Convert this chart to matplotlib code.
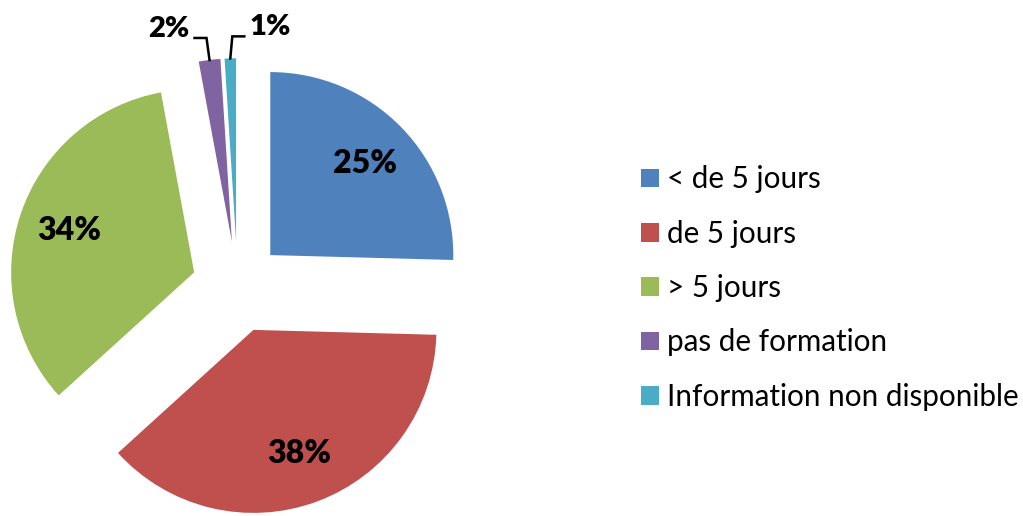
import matplotlib
matplotlib.use("Agg")
import matplotlib.pyplot as plt
import numpy as np

categories = ["< de 5 jours", "de 5 jours", "> 5 jours", "pas de formation",
              "Information non disponible"]
shares = [25.4, 37.8, 33.8, 1.9, 1.0]
colors = ["#4F81BD", "#C0504D", "#9BBB59", "#8064A2", "#4BACC6"]

plt.rcParams["font.family"] = ["Lato", "DejaVu Sans"]

W, H, DPI = 1023, 516, 100
fig = plt.figure(figsize=(W / DPI, H / DPI), dpi=DPI)
ax = fig.add_axes([0, 0, 1, 1])

# pie geometry in pixels: centre and radius
cx, cy, rad = 237.5, 287.0, 183.0

wedges, texts, autotexts = ax.pie(
    shares, colors=colors, startangle=90, counterclock=False,
    explode=[0.25] * len(shares), radius=1.0, center=(0, 0),
    autopct="%.0f%%", pctdistance=0.72,
    wedgeprops=dict(linewidth=0),
    textprops=dict(fontsize=23, fontweight="heavy", color="black"),
    frame=True,
)
ax.set_xlim(-cx / rad, (W - cx) / rad)
ax.set_ylim(-(H - cy) / rad, cy / rad)
ax.axis("off")

px = 1.0 / rad  # one pixel in data units
for i, (w, t) in enumerate(zip(wedges, autotexts)):
    if shares[i] >= 5:
        continue
    t.set_visible(False)
    mid = np.deg2rad((w.theta1 + w.theta2) / 2)
    ox, oy = w.center
    ax_x, ax_y = ox + w.r * np.cos(mid), oy + w.r * np.sin(mid)
    side = -1 if np.cos(mid) < -0.05 else 1
    ex = ax_x - 3 * px if side < 0 else ax_x + 2 * px
    ey = ax_y + 22 * px
    ends = ex + side * 12 * px
    ax.plot([ax_x, ex, ends], [ax_y, ey, ey], color="black", lw=1.8,
            solid_joinstyle="miter")
    ax.text(ends + side * 5 * px, ey + 9 * px, t.get_text(),
            ha="right" if side < 0 else "left", va="center",
            fontsize=21, fontweight="heavy", color="black")

fig.legend(wedges, categories, loc="center left",
           bbox_to_anchor=(641 / W, 1 - 288 / H), frameon=False,
           fontsize=21.3, handlelength=0.62, handleheight=0.6,
           handletextpad=0.27, labelspacing=0.89, borderpad=0,
           borderaxespad=0)

fig.savefig("out.png", dpi=DPI)
